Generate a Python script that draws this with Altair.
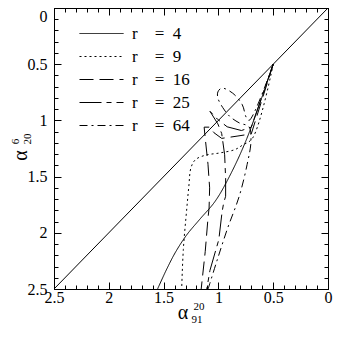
import altair as alt
import pandas as pd

# ---- data ----
r_values = [4, 9, 16, 25, 64]

x_r4 = [0.50, 0.74, 0.90, 1.03, 1.17, 1.29, 1.39, 1.47, 1.555]
y_r4 = [0.50, 1.16, 1.50, 1.72, 1.88, 2.02, 2.17, 2.32, 2.50]

x_r9 = [0.50, 0.69, 0.78, 0.85, 0.99, 1.12, 1.21, 1.25, 1.27, 1.29, 1.32, 1.335]
y_r9 = [0.50, 1.16, 1.22, 1.26, 1.29, 1.31, 1.35, 1.42, 1.59, 1.80, 2.15, 2.50]

x_r16 = [0.50, 0.70, 0.83, 0.97, 1.04, 1.08, 1.13, 1.12, 1.095, 1.08, 1.085, 1.095, 1.12, 1.157]
y_r16 = [0.50, 1.12, 1.14, 1.16, 1.11, 1.06, 1.06, 1.16, 1.39, 1.60, 1.78, 1.87, 2.165, 2.50]

x_r25 = [0.50, 0.70, 0.79, 0.92, 1.01, 1.077, 1.005, 0.97, 0.943, 0.934, 0.934, 0.952, 0.967, 0.996, 1.077, 1.106]
y_r25 = [0.50, 1.06, 1.09, 1.057, 0.988, 0.919, 1.031, 1.117, 1.306, 1.52, 1.675, 1.735, 1.818, 2.06, 2.334, 2.50]

x_r64 = [0.50, 0.72, 0.747, 0.783, 0.872, 0.97, 1.005, 1.005, 0.961, 0.899, 0.81, 0.721, 0.703, 0.738, 0.81, 0.916, 1.014, 1.094]
y_r64 = [0.50, 1.00, 0.971, 0.859, 0.756, 0.713, 0.747, 0.80, 0.885, 0.962, 1.022, 1.057, 1.186, 1.392, 1.675, 1.959, 2.251, 2.50]

x_diag = [0.0, 2.5]
y_diag = [0.0, 2.5]

major_ticks = [0, 0.5, 1, 1.5, 2, 2.5]
minor_ticks = [round(i * 0.1, 1) for i in range(26)]

x_title_parts = ["\u03b1", "20", "91"]
y_title_parts = ["\u03b1", "20", "6"]

# ---- build tables ----
series_x = [x_r4, x_r9, x_r16, x_r25, x_r64]
series_y = [y_r4, y_r9, y_r16, y_r25, y_r64]
labels = ["r\u2003=\u2002" + str(r) for r in r_values]
dashes = [[1, 0], [2, 3], [14, 6], [22, 5, 5, 5], [8, 4, 2, 4]]
smooth = [True, True, False, False, True]

rows = []
for lab, xs, ys, sm in zip(labels, series_x, series_y, smooth):
    for i, (xv, yv) in enumerate(zip(xs, ys)):
        rows.append({"label": lab, "i": i, "x": xv, "y": yv, "smooth": sm})
df = pd.DataFrame(rows)
df_smooth = df[df["smooth"]].drop(columns="smooth")
df_sharp = df[~df["smooth"]].drop(columns="smooth")
diag = pd.DataFrame({"x": x_diag, "y": y_diag, "i": [0, 1]})

FONT = "Liberation Serif"
W, H = 274, 281
xscale = alt.Scale(domain=[0, 2.5], reverse=True, nice=False, zero=False)
yscale = alt.Scale(domain=[0, 2.5], reverse=True, nice=False, zero=False)


def tick_axis(orient, size, values, labels_on=False, **kw):
    return alt.Axis(orient=orient, offset=-size, tickSize=size, values=values,
                    labels=labels_on, domain=False, grid=False, title=None,
                    tickColor="black", tickWidth=1, **kw)


x_main = tick_axis("bottom", 7, major_ticks, True, format="~g", labelFont=FONT,
                   labelFontSize=16, labelColor="black", labelPadding=0,
                   labelFlush=False, labelOverlap=False)
y_main = tick_axis("left", 7, major_ticks, True, format="~g", labelFont=FONT,
                   labelFontSize=16, labelColor="black", labelPadding=7,
                   labelFlush=False, labelOverlap=False,
                   labelBaseline={"expr": "datum.value == 0 ? 'top' : 'middle'"})

legend = alt.Legend(orient="none", legendX=39, legendY=17, title=None,
                    padding=0, symbolType="M-4.4,0H4.4", symbolSize=100,
                    symbolStrokeWidth=1, symbolStrokeColor="black",
                    symbolFillColor="transparent", labelFont=FONT,
                    labelFontSize=17, labelColor="black", labelOffset=22,
                    rowPadding=5)
dash_enc = alt.StrokeDash("label:N", scale=alt.Scale(domain=labels, range=dashes),
                          legend=legend)

curves_smooth = alt.Chart(df_smooth).mark_line(
    color="black", strokeWidth=1, interpolate="catmull-rom"
).encode(
    x=alt.X("x:Q", scale=xscale, axis=x_main),
    y=alt.Y("y:Q", scale=yscale, axis=y_main),
    strokeDash=dash_enc,
    order="i:Q",
)
curves_sharp = alt.Chart(df_sharp).mark_line(color="black", strokeWidth=1).encode(
    x=alt.X("x:Q", scale=xscale, axis=None),
    y=alt.Y("y:Q", scale=yscale, axis=None),
    strokeDash=dash_enc,
    order="i:Q",
)

diag_line = alt.Chart(diag).mark_line(color="black", strokeWidth=1).encode(
    x=alt.X("x:Q", scale=xscale, axis=tick_axis("bottom", 4, minor_ticks)),
    y=alt.Y("y:Q", scale=yscale, axis=tick_axis("left", 4, minor_ticks)),
    order="i:Q",
)

top_right_major = alt.Chart(diag).mark_line(opacity=0).encode(
    x=alt.X("x:Q", scale=xscale, axis=tick_axis("top", 7, major_ticks)),
    y=alt.Y("y:Q", scale=yscale, axis=tick_axis("right", 7, major_ticks)),
)
top_right_minor = alt.Chart(diag).mark_line(opacity=0).encode(
    x=alt.X("x:Q", scale=xscale, axis=tick_axis("top", 4, minor_ticks)),
    y=alt.Y("y:Q", scale=yscale, axis=tick_axis("right", 4, minor_ticks)),
)


def title_text(txt, px, py, size, angle=0):
    return alt.Chart(pd.DataFrame({"t": [txt]})).mark_text(
        font=FONT, fontSize=size, color="black", align="center",
        baseline="middle", angle=angle,
    ).encode(text="t:N", x=alt.value(px), y=alt.value(py))


titles = [
    title_text(x_title_parts[0], 129, 305, 20),
    title_text(x_title_parts[1], 145, 299, 11),
    title_text(x_title_parts[2], 143, 312, 11),
    title_text(y_title_parts[0], -33, 147.5, 20, 270),
    title_text(y_title_parts[1], -26, 131, 11, 270),
    title_text(y_title_parts[2], -38, 133.5, 11, 270),
]

chart = alt.layer(curves_smooth, curves_sharp, diag_line, top_right_major,
                  top_right_minor, *titles).resolve_axis(
    x="independent", y="independent"
).properties(
    width=W, height=H,
    autosize=alt.AutoSizeParams(type="none"),
    padding={"left": 46, "top": 0, "right": 5, "bottom": 37},
    background="white",
).configure_view(stroke="black", strokeWidth=1)

chart.save("out.html", embed_options={"renderer": "svg", "actions": False})
